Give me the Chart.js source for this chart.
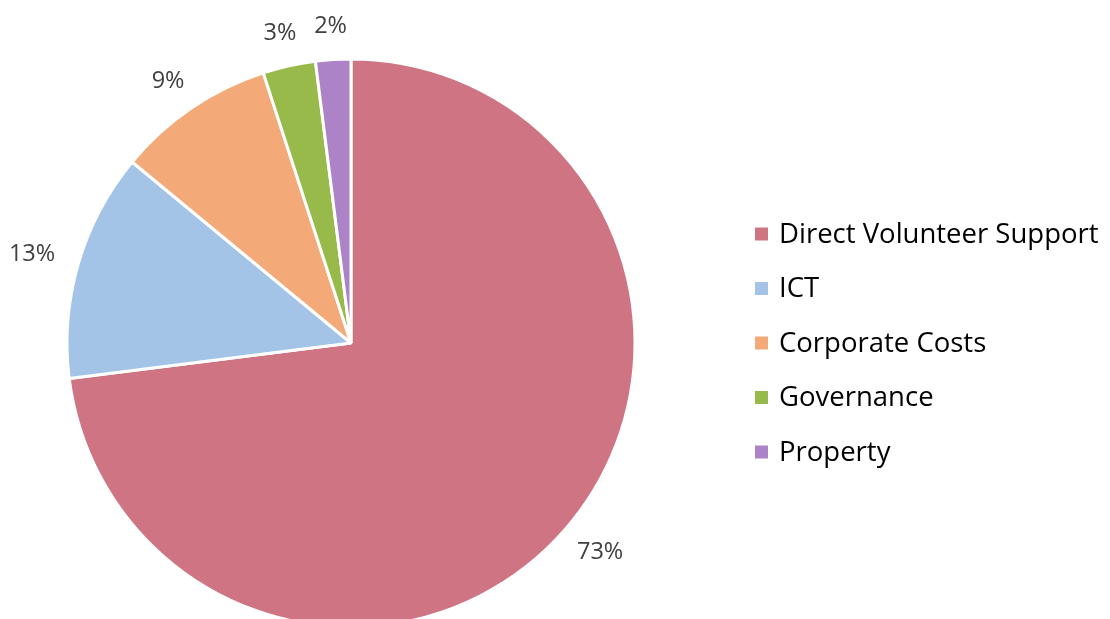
<!DOCTYPE html>
<html>
<head>
<meta charset="utf-8">
<script src="https://cdn.jsdelivr.net/npm/chart.js@4/dist/chart.umd.min.js"></script>
<style>
html,body{margin:0;padding:0;background:#fff;overflow:hidden;width:1110px;height:619px}
#wrap{position:relative;width:1110px;height:686px}
</style>
</head>
<body>
<div id="wrap"><canvas id="c" width="1110" height="686"></canvas></div>
<script>
const categories = ['Direct Volunteer Support', 'ICT', 'Corporate Costs', 'Governance', 'Property'];
const shares = [73, 13, 9, 3, 2];
const sliceColors = ['#CF7483', '#A3C4E6', '#F3A978', '#98BA4B', '#AB83C6'];

const LABEL_FONT = '23.5px "Open Sans"';
const LEGEND_FONT = '27.5px "Open Sans"';

const percentLabelPlugin = {
  id: 'percentLabels',
  afterDatasetsDraw(chart) {
    const ctx = chart.ctx;
    const meta = chart.getDatasetMeta(0);
    const values = chart.data.datasets[0].data;
    ctx.save();
    ctx.font = LABEL_FONT;
    ctx.fillStyle = '#404040';
    ctx.textAlign = 'center';
    ctx.textBaseline = 'middle';
    meta.data.forEach((arc, i) => {
      const p = arc.getProps(['x', 'y', 'startAngle', 'endAngle', 'outerRadius'], true);
      const mid = (p.startAngle + p.endAngle) / 2;
      const c = Math.cos(mid), s = Math.sin(mid);
      const txt = values[i] + '%';
      const hw = ctx.measureText(txt).width / 2, hh = 8;
      const d = p.outerRadius + 25;
      ctx.fillText(txt, p.x + d * c + hw * c, p.y + d * s + hh * s);
    });
    ctx.restore();
  }
};

const sideLegendPlugin = {
  id: 'sideLegend',
  afterDraw(chart) {
    const ctx = chart.ctx;
    const ds = chart.data.datasets[0];
    ctx.save();
    ctx.font = LEGEND_FONT;
    ctx.textAlign = 'left';
    ctx.textBaseline = 'middle';
    const x0 = 755, y0 = 234, step = 54.5, box = 13;
    chart.data.labels.forEach((lab, i) => {
      const y = y0 + i * step;
      ctx.fillStyle = ds.backgroundColor[i];
      ctx.fillRect(x0, y - box / 2, box, box);
      ctx.fillStyle = '#000000';
      ctx.fillText(lab, x0 + 24, y + 1);
    });
    ctx.restore();
  }
};

function build() {
  new Chart(document.getElementById('c'), {
    type: 'pie',
    data: {
      labels: categories,
      datasets: [{
        data: shares,
        backgroundColor: sliceColors,
        borderColor: '#ffffff',
        borderWidth: 3
      }]
    },
    options: {
      responsive: false,
      animation: false,
      devicePixelRatio: 1,
      radius: 284,
      layout: { padding: { left: 0, right: 408, top: 59, bottom: 59 } },
      plugins: {
        legend: { display: false },
        tooltip: { enabled: false }
      }
    },
    plugins: [percentLabelPlugin, sideLegendPlugin]
  });
}
if (document.fonts && document.fonts.load) {
  Promise.all([document.fonts.load(LABEL_FONT), document.fonts.load(LEGEND_FONT)]).then(build, build);
} else { build(); }
</script>
</body>
</html>
